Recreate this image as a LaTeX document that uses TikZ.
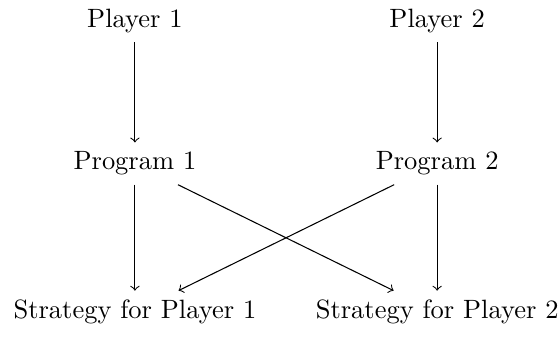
\documentclass[tikz,border=0pt]{standalone}
\begin{document}
\begin{tikzpicture}[every path/.style={->}]
  \useasboundingbox (0,0) rectangle (7.43,4.47);
  \node (play1) at (1.79,4.19) {Player 1};
  \node (play2) at (5.80,4.19) {Player 2};
  \node (prog1) at (1.79,2.30) {Program 1};
  \node (prog2) at (5.80,2.30) {Program 2};
  \node (strat1) at (1.79,0.33) {Strategy for Player 1};
  \node (strat2) at (5.80,0.33) {Strategy for Player 2};
  \draw (play1) -- (prog1);
  \draw (play2) -- (prog2);
  \foreach \a/\b in {prog1/strat1, prog1/strat2, prog2/strat1, prog2/strat2}
    \draw (\a) -- (\b);
\end{tikzpicture}
\end{document}
